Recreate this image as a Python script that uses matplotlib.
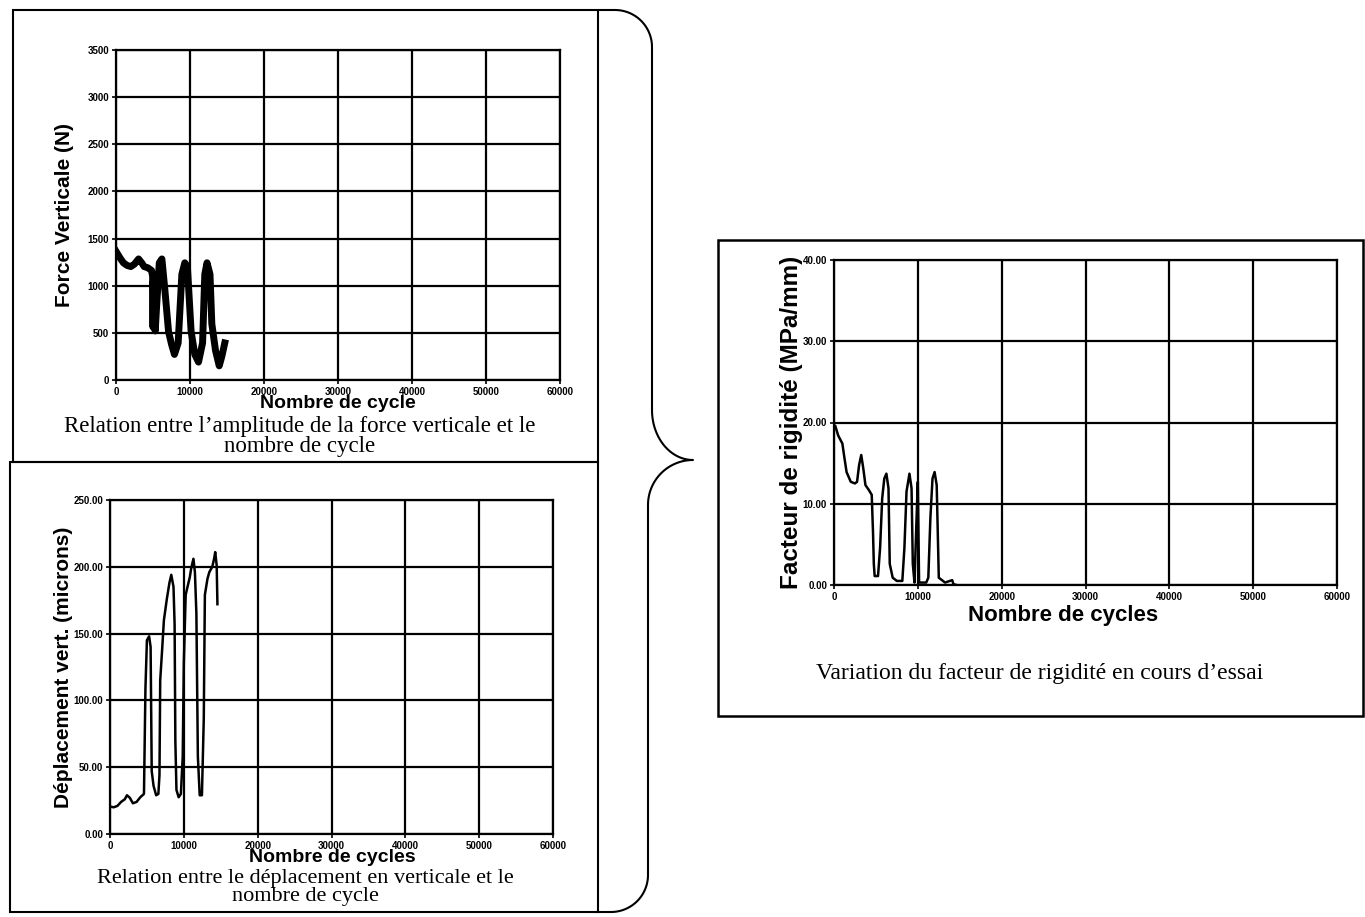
import numpy as np
import matplotlib
matplotlib.use("Agg")
import matplotlib.pyplot as plt
from matplotlib.patches import Rectangle

W, H = 1365, 917

# Force verticale (N) vs nombre de cycles
force_cycles = [0, 500, 1000, 1500, 2000, 2500, 3050, 3500, 3800, 4300, 4800, 4950,
                5000, 5050, 5100, 5150, 5200, 5300, 5500, 5850, 6200, 6600, 7100, 7500,
                7900, 8400, 8900, 9300, 9650, 10150, 10650, 11150, 11700, 12000, 12300,
                12700, 12950, 13450, 13950, 14300, 14700]
force_values = [1365, 1300, 1243, 1215, 1203, 1230, 1284, 1240, 1203, 1190, 1162, 1100,
                560, 1050, 580, 1000, 620, 520, 800, 1243, 1284, 960, 514, 380,
                271, 393, 1122, 1243, 1203, 514, 271, 190, 393, 1122, 1243,
                1122, 595, 312, 150, 250, 393]

# Deplacement vertical (microns) vs nombre de cycles
disp_cycles = [0, 500, 1000, 1500, 2000, 2300, 2700, 3100, 3600, 4100, 4600, 4800, 5000,
               5300, 5500, 5650, 5900, 6250, 6550, 6700, 6800, 7050, 7300, 7700, 8050,
               8300, 8600, 8750, 8850, 9000, 9300, 9600, 9850, 10000, 10250, 10500,
               10800, 11000, 11300, 11500, 11700, 11900, 12150, 12450, 12700, 12850,
               13200, 13450, 13850, 14100, 14250, 14450, 14550]
disp_values = [20.5, 20, 21, 24, 26, 29, 27, 23, 24, 27.5, 30, 109, 145,
               148, 140, 47, 36, 29, 30, 44, 115, 137, 160, 176, 188,
               194, 185, 157, 70, 33, 27.5, 30, 58, 128, 179, 185,
               192, 199, 206, 196, 165, 58, 29, 29, 86, 179,
               191, 196, 200, 206, 211, 201, 172]

# Facteur de rigidite (MPa/mm) vs nombre de cycles
rig_cycles = [0, 150, 500, 1000, 1250, 1500, 2000, 2500, 2750, 3000, 3250, 3500, 3750,
              4150, 4500, 4650, 4750, 4850, 5250, 5500, 5750, 6000, 6250, 6500, 6650,
              7000, 7500, 8150, 8400, 8650, 9000, 9250, 9400, 9600, 9850, 10000, 10150,
              11000, 11250, 11500, 11750, 12000, 12250, 12500, 13250, 14100, 14250, 14600]
rig_values = [19.5, 19.6, 18.4, 17.4, 15.6, 13.9, 12.7, 12.5, 12.7, 14.8, 16.0, 14.3, 12.3,
              11.7, 11.1, 6.6, 2.6, 1.1, 1.1, 4.6, 10.7, 13.1, 13.7, 11.9, 2.6,
              0.9, 0.5, 0.5, 4.6, 11.5, 13.7, 11.9, 2.6, 0.3, 8.3, 12.7, 0.3,
              0.3, 0.9, 8.3, 13.1, 13.9, 12.3, 0.9, 0.3, 0.6, 0.1, 0.0]

x_ticks = [0, 10000, 20000, 30000, 40000, 50000, 60000]
force_ticks = [0, 500, 1000, 1500, 2000, 2500, 3000, 3500]
disp_ticks = [0, 50, 100, 150, 200, 250]
rig_ticks = [0, 10, 20, 30, 40]

SANS = "Liberation Sans"
SERIF = "Liberation Serif"

fig = plt.figure(figsize=(W / 100, H / 100), dpi=100)

# overlay in pixel coordinates for frames, brace and captions
ov = fig.add_axes([0, 0, 1, 1])
ov.set_xlim(0, W)
ov.set_ylim(H, 0)
ov.axis("off")


def px_axes(left, top, right, bottom):
    return fig.add_axes([left / W, 1 - bottom / H, (right - left) / W, (bottom - top) / H])


def style_axes(ax, yticks, yfmt, ymax):
    ax.set_xlim(0, 60000)
    ax.set_ylim(0, ymax)
    ax.set_xticks(x_ticks)
    ax.set_xticklabels([str(t) for t in x_ticks])
    ax.set_yticks(yticks)
    ax.set_yticklabels([yfmt.format(t) for t in yticks])
    ax.grid(True, color="black", linewidth=1.6)
    for s in ax.spines.values():
        s.set_linewidth(1.6)
    ax.tick_params(direction="out", length=3, width=1.2, pad=2)
    for lab in ax.get_xticklabels() + ax.get_yticklabels():
        lab.set_fontfamily(SANS)
        lab.set_fontweight("bold")
        lab.set_fontsize(7)


# frames
ov.add_patch(Rectangle((13, 10), 585, 452, fill=False, lw=1.5, ec="black"))
ov.add_patch(Rectangle((10, 462), 588, 450, fill=False, lw=1.5, ec="black"))
ov.add_patch(Rectangle((718, 240), 645, 476, fill=False, lw=1.8, ec="black"))

# brace
t1 = np.linspace(-np.pi / 2, 0, 30)
t2 = np.linspace(np.pi, np.pi / 2, 30)
t3 = np.linspace(-np.pi / 2, -np.pi, 30)
t4 = np.linspace(0, np.pi / 2, 30)
bx = np.concatenate([[600], 615 + 37 * np.cos(t1), 693 + 41 * np.cos(t2),
                     693 + 45 * np.cos(t3), 611 + 37 * np.cos(t4), [596]])
by = np.concatenate([[10], 47 + 37 * np.sin(t1), 410 + 50 * np.sin(t2),
                     505 + 45 * np.sin(t3), 875 + 37 * np.sin(t4), [912]])
ov.plot(bx, by, color="black", lw=1.5)

# top-left: force
ax1 = px_axes(116, 50, 560, 380)
ax1.plot(force_cycles, force_values, color="black", lw=5, solid_joinstyle="round")
style_axes(ax1, force_ticks, "{:d}", 3500)
ax1.set_ylabel("Force Verticale (N)", fontfamily=SANS, fontweight="bold", fontsize=15, labelpad=10)
ov.text(338, 404, "Nombre de cycle", ha="center", va="center",
        fontfamily=SANS, fontweight="bold", fontsize=14)
ov.text(300, 416, "Relation entre l\u2019amplitude de la force verticale et le\nnombre de cycle",
        ha="center", va="top", fontfamily=SERIF, fontsize=16.5, linespacing=0.95)

# bottom-left: deplacement
ax2 = px_axes(110, 500, 553, 834)
ax2.plot(disp_cycles, disp_values, color="black", lw=1.8)
style_axes(ax2, disp_ticks, "{:.2f}", 250)
ax2.set_ylabel("D\u00e9placement vert. (microns)", fontfamily=SANS, fontweight="bold",
               fontsize=15, labelpad=0)
ov.text(332, 858, "Nombre de cycles", ha="center", va="center",
        fontfamily=SANS, fontweight="bold", fontsize=14)
ov.text(305, 869, "Relation entre le d\u00e9placement en verticale et le\nnombre de cycle",
        ha="center", va="top", fontfamily=SERIF, fontsize=16, linespacing=0.9)

# right: facteur de rigidite
ax3 = px_axes(834, 260, 1337, 585)
ax3.plot(rig_cycles, rig_values, color="black", lw=1.8)
style_axes(ax3, rig_ticks, "{:.2f}", 40)
ax3.set_ylabel("Facteur de rigidit\u00e9 (MPa/mm)", fontfamily=SANS, fontweight="bold",
               fontsize=17.5, labelpad=0)
ov.text(1063, 615, "Nombre de cycles", ha="center", va="center",
        fontfamily=SANS, fontweight="bold", fontsize=16)
ov.text(1040, 673, "Variation du facteur de rigidit\u00e9 en cours d\u2019essai",
        ha="center", va="center", fontfamily=SERIF, fontsize=17)

fig.savefig("out.png", dpi=100)
